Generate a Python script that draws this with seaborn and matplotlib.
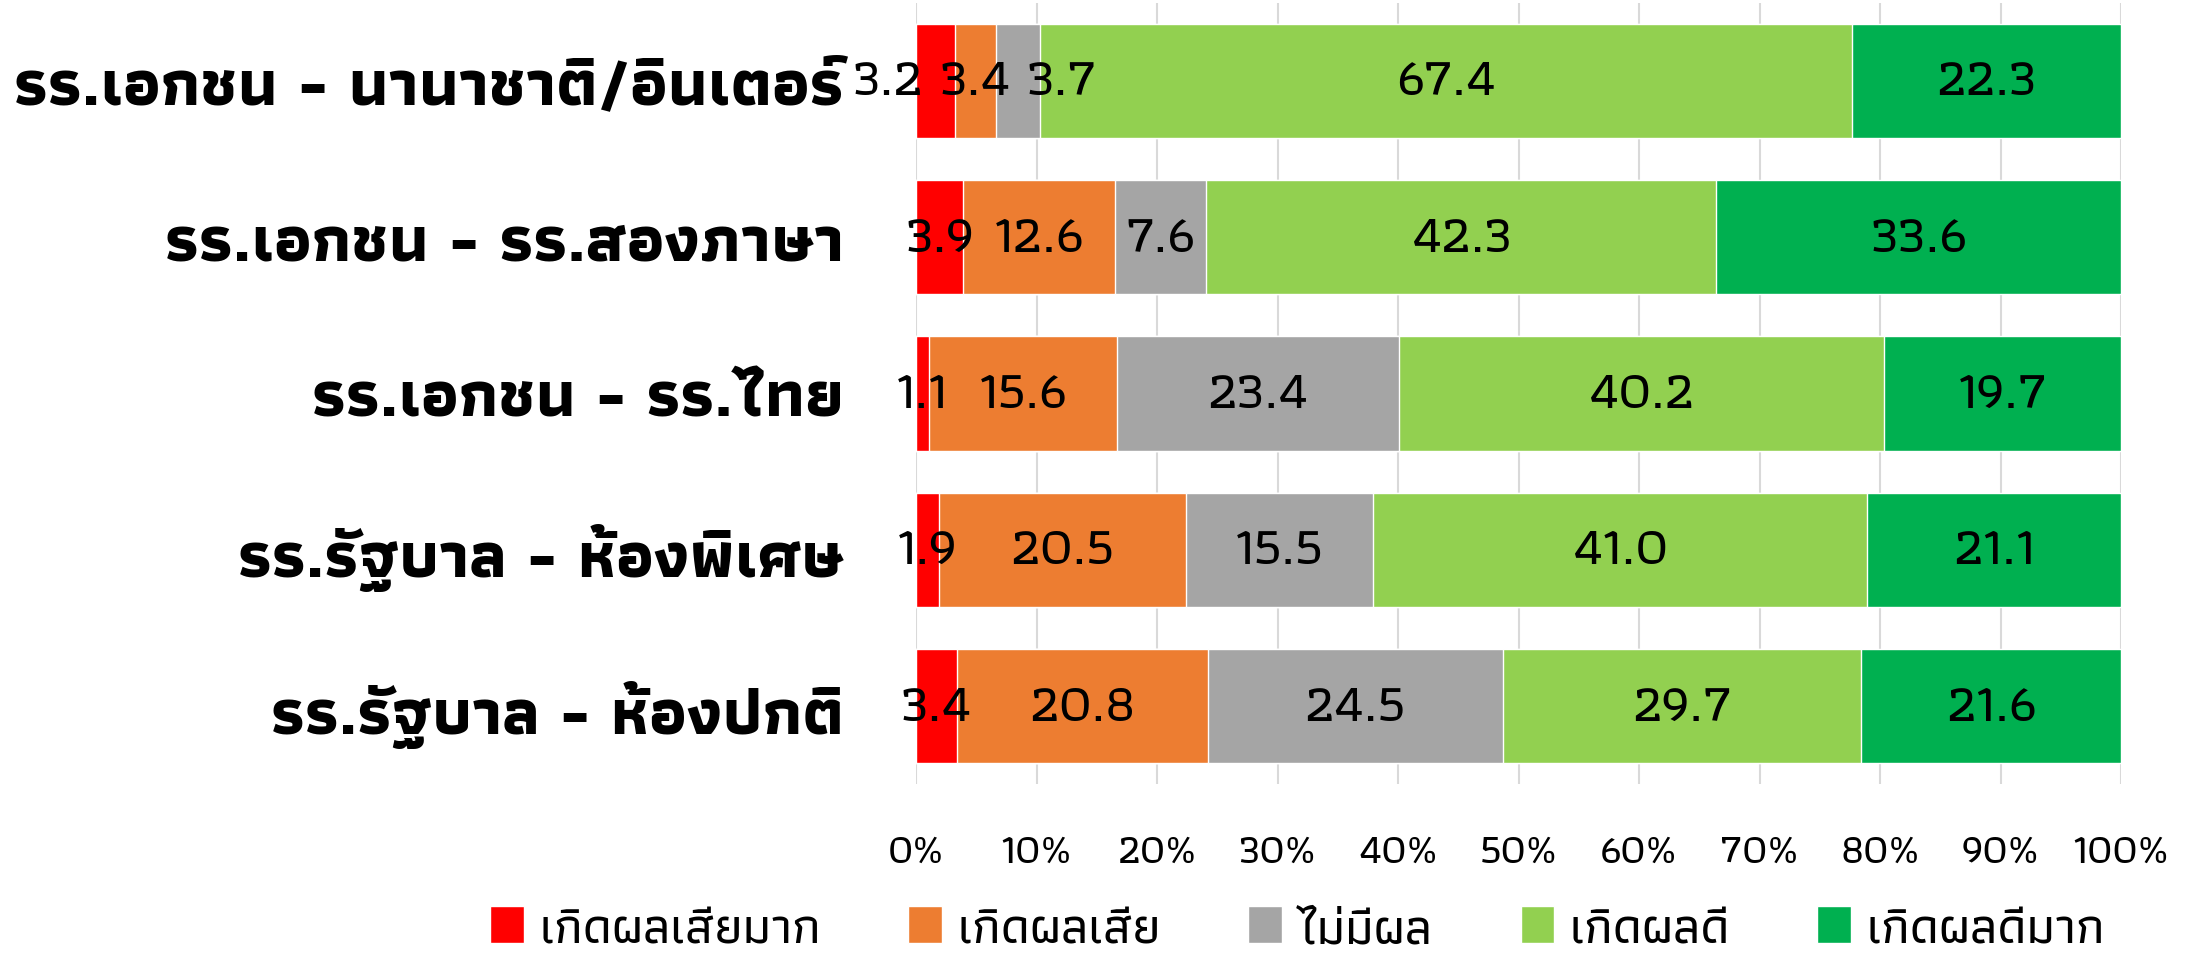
import numpy as np
import pandas as pd
import matplotlib
matplotlib.use("Agg")
import matplotlib.pyplot as plt
import seaborn as sns
from matplotlib import font_manager
from matplotlib.ft2font import FT2Font
from matplotlib.patches import Patch

# ---------------- data ----------------
schools = ["รร.เอกชน - นานาชาติ/อินเตอร์", "รร.เอกชน - รร.สองภาษา", "รร.เอกชน - รร.ไทย",
           "รร.รัฐบาล - ห้องพิเศษ", "รร.รัฐบาล - ห้องปกติ"]
impacts = ["เกิดผลเสียมาก", "เกิดผลเสีย", "ไม่มีผล", "เกิดผลดี", "เกิดผลดีมาก"]
very_bad = [3.2, 3.9, 1.1, 1.9, 3.4]
bad = [3.4, 12.6, 15.6, 20.5, 20.8]
no_effect = [3.7, 7.6, 23.4, 15.5, 24.5]
good = [67.4, 42.3, 40.2, 41.0, 29.7]
very_good = [22.3, 33.6, 19.7, 21.1, 21.6]
colors = ["#FF0000", "#ED7D31", "#A5A5A5", "#92D050", "#00B050"]

# ---------------- font with Thai glyphs (prefer one that has a bold face) ----------------
thai = {}
for f in font_manager.fontManager.ttflist:
    try:
        if 0x0E01 in FT2Font(f.fname).get_charmap():
            w = f.weight if isinstance(f.weight, int) else 400
            thai.setdefault(f.name, set()).add(w)
    except Exception:
        pass
bold_fams = sorted([n for n, ws in thai.items() if max(ws) >= 700])
thai_font = (bold_fams or sorted(thai) or ["DejaVu Sans"])[0]
print("Thai fonts:", thai, "->", thai_font)

sns.set_theme(style="white")
plt.rcParams["font.family"] = [thai_font, "DejaVu Sans"]
plt.rcParams["text.color"] = "black"
plt.rcParams["xtick.color"] = "black"
plt.rcParams["ytick.color"] = "black"

# ---------------- plot ----------------
vals = np.array([very_bad, bad, no_effect, good, very_good])
cum = vals.cumsum(axis=0)
df = pd.DataFrame(cum.T, columns=impacts)
df["school"] = schools

fig = plt.figure(figsize=(22.03, 9.54), dpi=100)
ax = fig.add_axes([0.4158, 0.177, 0.547, 0.819])

# draw the cumulative layers from the back (largest) to the front
for i in range(len(impacts) - 1, -1, -1):
    sns.barplot(data=df, x=impacts[i], y="school", color=colors[i], width=0.73,
                saturation=1, orient="h", ax=ax, zorder=2)

# segment labels (the tiny ones in the top row are pushed apart like in Excel)
nudge = {(0, 0): -3.9, (2, 0): 3.6}
for i in range(len(impacts)):
    for j in range(len(schools)):
        xc = cum[i, j] - vals[i, j] / 2 + nudge.get((i, j), 0)
        ax.text(xc, j, f"{vals[i, j]:.1f}", ha="center", va="center",
                fontsize=39, fontweight="medium", color="black", zorder=3)

ax.set_xlim(0, 100)
ax.set_ylim(4.5, -0.5)
ax.set_xticks(np.arange(0, 101, 10))
ax.set_xticklabels([f"{t}%" for t in range(0, 101, 10)], fontsize=30, fontweight="medium")
ax.tick_params(axis="x", pad=36, length=0)
ax.tick_params(axis="y", length=0, pad=52)
for lab in ax.get_yticklabels():
    lab.set_fontsize(47.5)
    lab.set_fontweight("heavy")
ax.set_xlabel("")
ax.set_ylabel("")
ax.xaxis.grid(True, color="#D9D9D9", linewidth=1.5, zorder=0)
ax.set_axisbelow(True)
for s in ax.spines.values():
    s.set_visible(False)

handles = [Patch(facecolor=c, label=l) for c, l in zip(colors, impacts)]
fig.legend(handles=handles, loc="center", bbox_to_anchor=(0.589, 0.025), ncol=5,
           frameon=False, prop={"size": 37, "weight": "medium"}, handlelength=0.65,
           handleheight=0.72, handletextpad=0.3, columnspacing=1.7)

fig.savefig("out.png", dpi=100)
